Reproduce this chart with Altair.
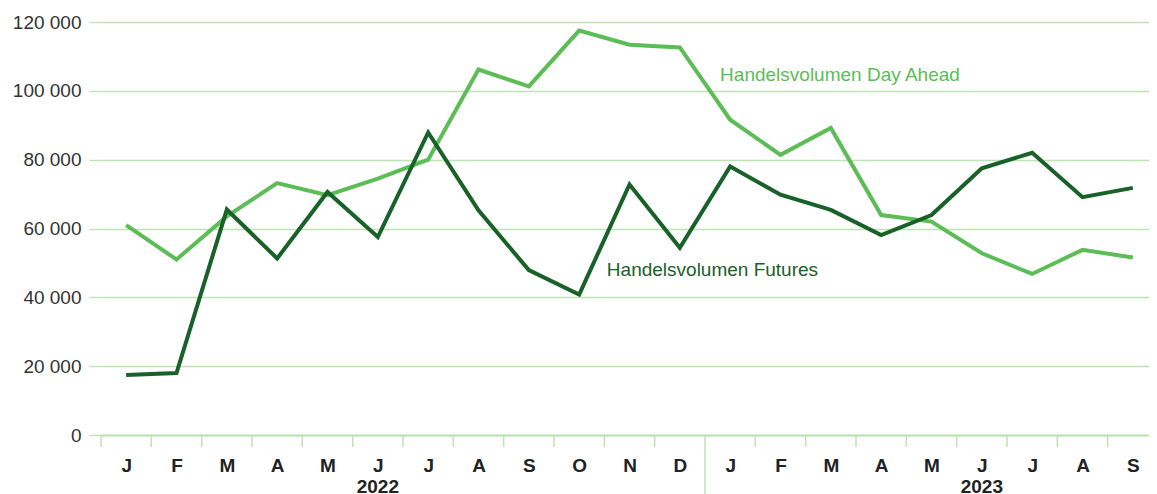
import json
import altair as alt
import pandas as pd

months = ["J", "F", "M", "A", "M", "J", "J", "A", "S", "O", "N", "D",
          "J", "F", "M", "A", "M", "J", "J", "A", "S"]
day_ahead = [61000, 51000, 63500, 73200, 69700, 74500, 80000, 106200, 101300, 117500,
             113400, 112600, 91600, 81400, 89200, 63900, 62000, 52800, 46800, 53800, 51600]
futures = [17400, 18000, 65500, 51300, 70600, 57500, 87900, 65300, 47900, 40800,
           72800, 54400, 78000, 69800, 65400, 58100, 63900, 77500, 82000, 69100, 71800]
years = ["2022", "2023"]
year_pos = [5.5, 17.5]
y_ticks = [0, 20000, 40000, 60000, 80000, 100000, 120000]
series_names = ["Handelsvolumen Day Ahead", "Handelsvolumen Futures"]
label_x = [12.3, 10.05]
label_y = [104600, 47900]

LIGHT = "#5cbd56"
DARK = "#186128"
GRID = "#bde3b2"
FONT = "Liberation Sans"

rows = []
for i in range(len(months)):
    rows.append({"pos": i + 0.5, "value": day_ahead[i], "series": series_names[0]})
    rows.append({"pos": i + 0.5, "value": futures[i], "series": series_names[1]})
df = pd.DataFrame(rows)

n = len(months)
W, H = 1057, 413

x_scale = alt.Scale(domain=[0, n], nice=False, zero=False)
y_scale = alt.Scale(domain=[0, 120000], nice=False)

month_expr = "%s[floor(datum.value)]" % json.dumps(months)

base = alt.Chart(df)

lines = base.mark_line(strokeWidth=4, strokeJoin="miter", strokeCap="butt").encode(
    x=alt.X("pos:Q", scale=x_scale,
            axis=alt.Axis(values=[i + 0.5 for i in range(n)], labelExpr=month_expr,
                          ticks=False, grid=False, domain=True, domainColor=GRID,
                          domainWidth=2, labelFont=FONT, labelFontSize=19,
                          labelFontWeight="bold", labelColor="#222222",
                          labelPadding=21, title=None, labelFlush=False)),
    y=alt.Y("value:Q", scale=y_scale,
            axis=alt.Axis(values=y_ticks, grid=True, gridColor=GRID, gridWidth=1.3,
                          domain=False, ticks=True, tickSize=12, tickColor=GRID,
                          tickWidth=1.3, labelPadding=8, labelFont=FONT,
                          labelFontSize=19, labelColor="#333333", title=None,
                          labelExpr="datum.value == 0 ? '0' : format(datum.value / 1000, 'd') + ' 000'")),
    color=alt.Color("series:N", scale=alt.Scale(domain=series_names, range=[LIGHT, DARK]),
                    legend=None),
)

lab_df = pd.DataFrame({"x": label_x, "y": label_y, "series": series_names})
labels = alt.Chart(lab_df).mark_text(align="left", baseline="middle", font=FONT,
                                     fontSize=19).encode(
    x=alt.X("x:Q", scale=x_scale),
    y=alt.Y("y:Q", scale=y_scale),
    text="series:N",
    color=alt.Color("series:N", scale=alt.Scale(domain=series_names, range=[LIGHT, DARK]),
                    legend=None),
)

tick_df = pd.DataFrame({"t": [i for i in range(n + 1) if i != 12]})
ticks = alt.Chart(tick_df).mark_rule(color=GRID, strokeWidth=1.5).encode(
    x=alt.X("t:Q", scale=x_scale),
    y=alt.value(H),
    y2=alt.value(H + 12),
)
sep_df = pd.DataFrame({"t": [12]})
sep = alt.Chart(sep_df).mark_rule(color=GRID, strokeWidth=1.5).encode(
    x=alt.X("t:Q", scale=x_scale),
    y=alt.value(H),
    y2=alt.value(H + 60),
)

year_df = pd.DataFrame({"x": year_pos, "year": years})
year_text = alt.Chart(year_df).mark_text(baseline="alphabetic", align="center", font=FONT,
                                         fontSize=19, fontWeight="bold",
                                         color="#222222").encode(
    x=alt.X("x:Q", scale=x_scale),
    y=alt.value(H + 58),
    text="year:N",
)

chart = alt.layer(ticks, sep, lines, labels, year_text).properties(
    width=W, height=H,
    autosize=alt.AutoSizeParams(type="none"),
    padding={"left": 93, "top": 14, "right": -9, "bottom": 59},
).configure_view(stroke=None)

chart.save("out.html", embed_options={"renderer": "svg", "actions": False})
